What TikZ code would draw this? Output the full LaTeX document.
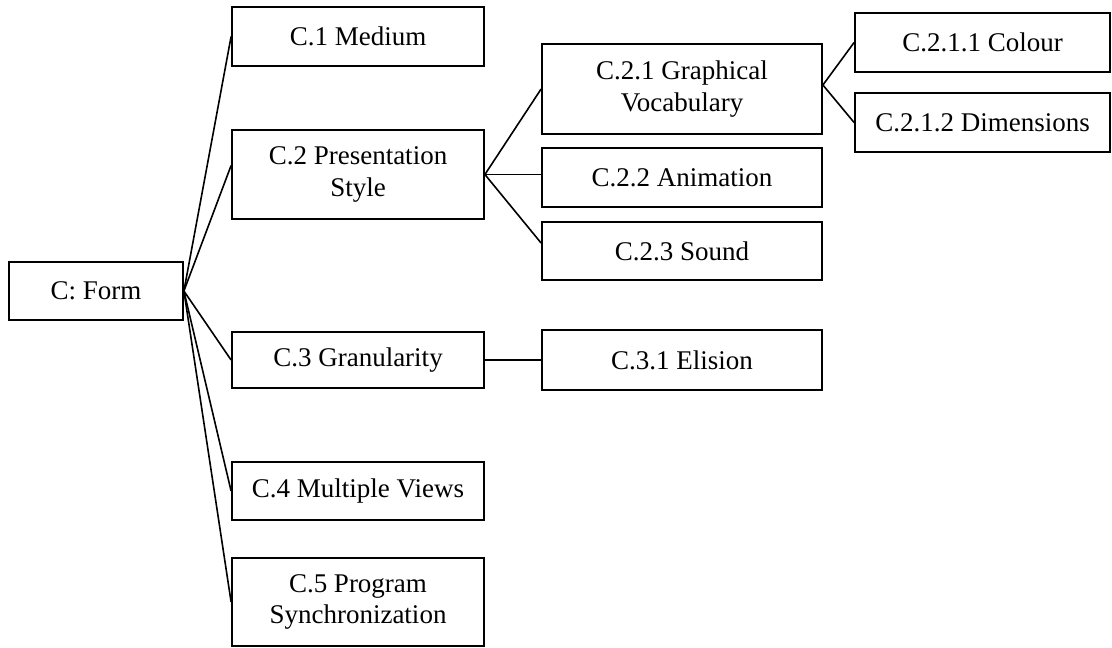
\documentclass[tikz,border=0pt]{standalone}
\usepackage{fontspec}
\setmainfont{Liberation Serif}
\begin{document}
\begin{tikzpicture}[x=1pt, y=-1pt,
  box/.style={draw, line width=1.8pt, align=center, inner sep=0pt,
    font=\fontsize{27}{31.5}\selectfont},
  link/.style={line width=1.6pt}]
\useasboundingbox (0,0) rectangle (1112,648);

% root
\node[box, minimum width=174pt, minimum height=58pt] (form) at (96,291) {C: Form};

% first level
\node[box, minimum width=252pt, minimum height=59pt] (c1) at (358,36.5) {C.1 Medium};
\node[box, minimum width=252pt, minimum height=89pt] (c2) at (358,174.5) {C.2 Presentation\\Style};
\node[box, minimum width=252pt, minimum height=56pt] (c3) at (358,360) {C.3 Granularity};
\node[box, minimum width=252pt, minimum height=58pt] (c4) at (358,491) {C.4 Multiple Views};
\node[box, minimum width=252pt, minimum height=88pt] (c5) at (358,602) {C.5 Program\\Synchronization};

% second level
\node[box, minimum width=280pt, minimum height=90pt] (c21) at (682,89) {C.2.1 Graphical\\Vocabulary};
\node[box, minimum width=280pt, minimum height=59pt] (c22) at (682,177.5) {C.2.2 Animation};
\node[box, minimum width=280pt, minimum height=58pt] (c23) at (682,251) {C.2.3 Sound};
\node[box, minimum width=280pt, minimum height=60pt] (c31) at (682,360) {C.3.1 Elision};

% third level
\node[box, minimum width=255pt, minimum height=59pt] (c211) at (982.5,42.5) {C.2.1.1 Colour};
\node[box, minimum width=255pt, minimum height=59pt] (c212) at (982.5,122.5) {C.2.1.2 Dimensions};

% connectors (shifts are in canvas units: positive moves up)
\foreach \t in {c1,c3,c4,c5}
  \draw[link] (form.east) -- (\t.west);
\draw[link] (form.east) -- ([yshift=9pt]c2.west);

\draw[link] (c2.east) -- (c21.west);
\draw[link] (c2.east) -- ([yshift=3pt]c22.west);
\draw[link] (c2.east) -- ([yshift=8pt]c23.west);

\draw[link] (c3.east) -- (c31.west);

\draw[link] ([yshift=4pt]c21.east) -- (c211.west);
\draw[link] ([yshift=4pt]c21.east) -- (c212.west);
\end{tikzpicture}
\end{document}
